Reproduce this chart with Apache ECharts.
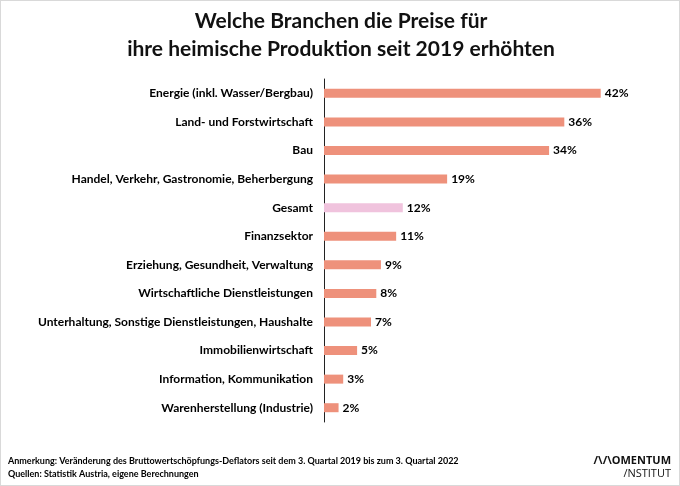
<!DOCTYPE html>
<html><head><meta charset="utf-8">
<script src="https://cdn.jsdelivr.net/npm/echarts@6/dist/echarts.min.js"></script>
<style>html,body{margin:0;padding:0;background:#fff}#c{width:680px;height:486px;box-sizing:border-box;border:1px solid #d9d9d9}</style>
</head><body><div id="c"></div>
<script>
const categories = ["Energie (inkl. Wasser/Bergbau)","Land- und Forstwirtschaft","Bau","Handel, Verkehr, Gastronomie, Beherbergung","Gesamt","Finanzsektor","Erziehung, Gesundheit, Verwaltung","Wirtschaftliche Dienstleistungen","Unterhaltung, Sonstige Dienstleistungen, Haushalte","Immobilienwirtschaft","Information, Kommunikation","Warenherstellung (Industrie)"];
const values = [41.8, 36.3, 34.0, 18.6, 11.9, 10.9, 8.6, 7.9, 7.1, 5.0, 2.9, 2.2];
const highlight = "Gesamt";
const titleText = "Welche Branchen die Preise für\nihre heimische Produktion seit 2019 erhöhten";
const note1 = "Anmerkung: Veränderung des Bruttowertschöpfungs-Deflators seit dem 3. Quartal 2019 bis zum 3. Quartal 2022";
const note2 = "Quellen: Statistik Austria, eigene Berechnungen";

const chart = echarts.init(document.getElementById('c'), null, {renderer:'canvas'});
const F = 'Lato, "Open Sans", sans-serif';
chart.setOption({
  animation:false,
  graphic:[
    {type:'text',x:340,y:6,style:{text:titleText,align:'center',verticalAlign:'top',fontFamily:F,fontSize:21,fontWeight:'bold',fill:'#111',lineHeight:28}},
    {type:'text',left:7,top:456,style:{text:note1,fontFamily:F,fontSize:9,fontWeight:'bold',fill:'#000'}},
    {type:'text',left:7,top:469,style:{text:note2,fontFamily:F,fontSize:9,fontWeight:'bold',fill:'#000'}},
    {type:'text',right:8,top:454,style:{text:'/\\/\\OMENTUM',fontFamily:'"Open Sans", sans-serif',fontSize:11,fontWeight:'bold',fill:'#111'}},
    {type:'text',right:8,top:467,style:{text:'/NSTITUT',fontFamily:'"Open Sans", sans-serif',fontSize:11,fill:'#111'}}
  ],
  grid:{left:323,right:24,top:78,bottom:63,containLabel:false},
  xAxis:{type:'value',min:0,max:50,show:false},
  yAxis:{type:'category',data:categories,inverse:true,
    axisLine:{show:true,lineStyle:{color:'#222',width:1}},
    axisTick:{show:false},
    axisLabel:{margin:11,fontFamily:F,fontSize:12,fontWeight:'bold',color:'#000'}},
  series:[{type:'bar',barWidth:9,
    data:values.map((v,i)=>({value:v,itemStyle:{color:categories[i]===highlight?'#F0C3DD':'#EE917B'}})),
    label:{show:true,position:'right',distance:4,fontFamily:F,fontSize:12,fontWeight:'bold',color:'#000',
      formatter:p=>Math.round(p.value)+'%'}}]
});
</script></body></html>
